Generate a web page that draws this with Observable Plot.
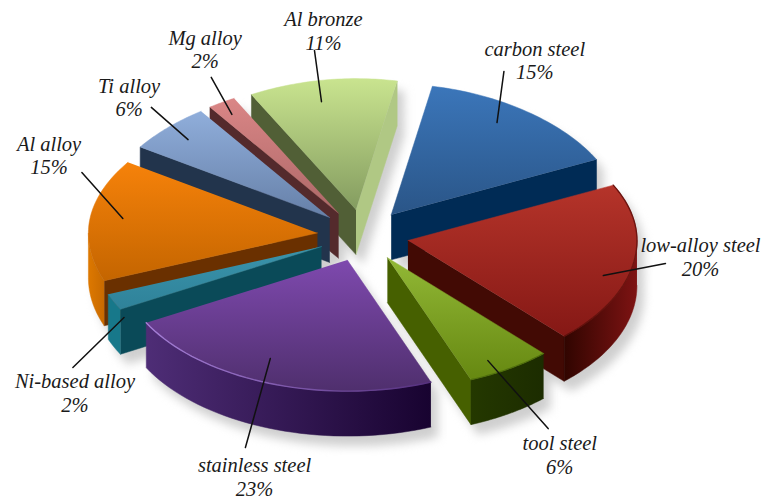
<!DOCTYPE html>
<html>
<head>
<meta charset="utf-8">
<script src="https://cdn.jsdelivr.net/npm/d3@7"></script>
<script src="https://cdn.jsdelivr.net/npm/@observablehq/plot@0.6"></script>
<style>
  html, body { margin: 0; padding: 0; background: #fff; }
  svg { display: block; }
</style>
</head>
<body>
<div id="chart"></div>
<script>
// Alloy shares, clockwise from the first slice
const names = ["carbon steel", "low-alloy steel", "tool steel", "stainless steel", "Ni-based alloy",
               "Al alloy", "Ti alloy", "Mg alloy", "Al bronze"];
const shares = [15, 20, 6, 23, 2, 15, 6, 2, 11];

// Colours: lit top face, shaded top face, inner walls, rim wall (left to right), bevel edge (left to right)
const topLight = ["#3b76ba", "#b5342a", "#92b836", "#7e49ae", "#3a94ac", "#f6820a", "#90aedb", "#da8686", "#c9e48f"];
const topDark  = ["#2a5587", "#851815", "#668811", "#4f2f6d", "#2f8299", "#c46500", "#6680a8", "#ad6868", "#849c60"];
const startWall = ["#002b55", "#420a04", "#466000", "#2c1058", "#0a4a58", "#6a3000", "#22344c", "#542a2c", "#515f36"];
const endWall   = ["#002b55", "#420a04", "#466000", "#2c1058", "#0a4a58", "#6a3000", "#22344c", "#542a2c", "#b0c884"];
const rimLeft  = ["#002b55", "#300500", "#243800", "#4e2d76", "#17788a", "#dd7800", "#22344c", "#542a2c", "#b0c884"];
const rimRight = ["#002b55", "#7e1313", "#1c2c00", "#180330", "#17788a", "#c86a00", "#22344c", "#542a2c", "#b0c884"];
const edgeLeft  = ["#3b76ba", "#5e0f0a", "#4f6e0c", "#a680d8", "#3a94ac", "#f6820a", "#90aedb", "#da8686", "#c9e48f"];
const edgeRight = ["#3b76ba", "#6e1410", "#4f6e0c", "#55307e", "#3a94ac", "#f6820a", "#90aedb", "#da8686", "#c9e48f"];
const edgeWidth = [0, 1.4, 1.2, 1.4, 0, 0, 0, 0, 0];

// Callouts, as [bearing in degrees, radius] from each slice's tip
const leaderInner = [[33.6, .846], [107.2, .905], [150.5, .903], [204.4, .825], [238.2, 1.028],
                     [277.3, .868], [313.5, .864], [328, .891], [349.5, .838]];
const leaderOuter = [[24.5, 1.203], [98.8, 1.153], [151.4, 1.486], [197.5, 1.5], [230, 1.436],
                     [293.9, 1.14], [316.8, 1.153], [331.5, 1.181], [351.4, 1.228]];
const labelSpot   = [[28.7, 1.323], [96.2, 1.302], [153.4, 1.703], [193.8, 1.721], [223.9, 1.573],
                     [295.9, 1.32], [315.4, 1.264], [334.4, 1.367], [353.9, 1.355]];

// Pie geometry: the unit disc is tilted by the unequal x and y scales below
const firstAngle = 11;
const explode = 0.2;
const thickness = 0.3435;
const recede = 0.06; // the far half of the disc narrows slightly with distance
const width = 762, height = 499;
const pxPerX = 229, pxPerY = 131, centreX = 362.5, centreY = 235;
const calloutSquash = 226 / pxPerX;
const drawOrder = [8, 7, 6, 0, 5, 1, 4, 2, 3];

const rad = d => d * Math.PI / 180;
const polar = (deg, r) => [r * Math.sin(rad(deg)), r * Math.cos(rad(deg))];
const sweep = (a0, a1, tip) => d3.range(0, 41).map(k => {
  const [x, y] = polar(a0 + (a1 - a0) * k / 40, 1);
  const far = y > 0 ? 1 - recede * y * y : 1;
  return [tip[0] + x * far, tip[1] + y];
});

const edges = d3.cumsum(shares).map(c => firstAngle + c * 3.6);
const slices = names.map((name, i) => {
  const a0 = i === 0 ? firstAngle : edges[i - 1];
  const a1 = edges[i];
  const tip = polar((a0 + a1) / 2, explode);
  return {i, name, a0, a1, tip, arc: sweep(a0, a1, tip)};
});

const drop = p => [p[0], p[1] - thickness];
const asRows = pts => pts.map(([x, y]) => ({x, y}));

// Only the faces turned towards the viewer are kept
const faces = s => {
  const f = {top: [s.tip, ...s.arc], walls: [], rim: null};
  if (Math.sin(rad(s.a0)) < 0) f.walls.push({pts: [s.tip, s.arc[0], drop(s.arc[0]), drop(s.tip)], fill: startWall[s.i]});
  if (Math.sin(rad(s.a1)) > 0) f.walls.push({pts: [s.tip, s.arc[40], drop(s.arc[40]), drop(s.tip)], fill: endWall[s.i]});
  const from = Math.max(s.a0, 90), to = Math.min(s.a1, 270);
  if (from < to) {
    const front = sweep(from, to, s.tip);
    f.rim = [...front, ...front.slice().reverse().map(drop)];
  }
  return f;
};

const fromTip = (s, [deg, r]) => {
  const [x, y] = polar(deg, r);
  return {x: s.tip[0] + x * calloutSquash, y: s.tip[1] + y};
};

// Gradients for the lit top faces, the curved rims and the bevel edges
const gradients = () => {
  const defs = d3.create("svg:defs");
  const ramp = (id, vertical, c0, c1) => {
    const g = defs.append("linearGradient").attr("id", id)
      .attr("x1", 0).attr("y1", 0).attr("x2", vertical ? 0 : 1).attr("y2", vertical ? 1 : 0);
    g.append("stop").attr("offset", "0%").attr("stop-color", c0);
    g.append("stop").attr("offset", "100%").attr("stop-color", c1);
  };
  slices.forEach(({i}) => {
    ramp(`top${i}`, true, topLight[i], topDark[i]);
    ramp(`rim${i}`, false, rimLeft[i], rimRight[i]);
    ramp(`edge${i}`, false, edgeLeft[i], edgeRight[i]);
  });
  return defs.node();
};

const shapeMark = (pts, fill) =>
  Plot.line(asRows(pts), {x: "x", y: "y", fill, stroke: fill, strokeWidth: 0.5, curve: "linear"});

// Soft ground shadow under every slice
const shadowRows = slices.flatMap(s => {
  const f = faces(s);
  const shapes = [f.top, ...f.walls.map(w => w.pts), ...(f.rim ? [f.rim] : [])];
  return shapes.flatMap((pts, k) => asRows(pts).map(d => ({...d, z: `${s.i}-${k}`})));
});

const sliceMarks = drawOrder.flatMap(i => {
  const s = slices[i];
  const f = faces(s);
  return [
    ...f.walls.map(w => shapeMark(w.pts, w.fill)),
    ...(f.rim ? [shapeMark(f.rim, `url(#rim${i})`)] : []),
    shapeMark(f.top, `url(#top${i})`),
    ...(edgeWidth[i] ? [Plot.line(asRows(s.arc), {x: "x", y: "y", stroke: `url(#edge${i})`, strokeWidth: edgeWidth[i]})] : [])
  ];
});

const leaders = slices.flatMap(s => [
  {...fromTip(s, leaderInner[s.i]), z: s.name},
  {...fromTip(s, leaderOuter[s.i]), z: s.name}
]);

const labels = slices.map(s => ({
  ...fromTip(s, labelSpot[s.i]),
  text: `${s.name}\n${shares[s.i]}%`
}));

const chart = Plot.plot({
  width, height,
  margin: 0,
  axis: null,
  style: {background: "#fff"},
  x: {domain: [-centreX / pxPerX, (width - centreX) / pxPerX], range: [0, width]},
  y: {domain: [(centreY - height) / pxPerY, centreY / pxPerY], range: [height, 0]},
  marks: [
    gradients,
    Plot.line(shadowRows, {
      x: "x", y: "y", z: "z", fill: "#cfcfcf", stroke: "none",
      dx: 7, dy: 10, imageFilter: "blur(5px)"
    }),
    ...sliceMarks,
    Plot.line(leaders, {x: "x", y: "y", z: "z", stroke: "#111", strokeWidth: 1.5}),
    Plot.text(labels, {
      x: "x", y: "y", text: "text", dy: -2.5,
      fontFamily: "Liberation Serif", fontStyle: "italic", fontSize: 20.5,
      lineHeight: 1.14, fill: "#1a1a1a", textAnchor: "middle"
    })
  ]
});
document.getElementById("chart").append(chart);
</script>
</body>
</html>
